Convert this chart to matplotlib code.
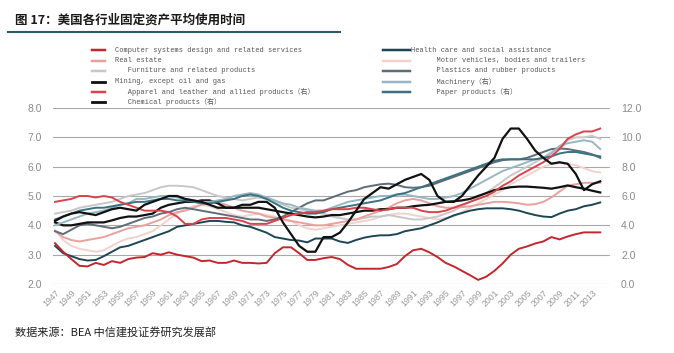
import matplotlib
matplotlib.use("Agg")
import matplotlib.pyplot as plt
from matplotlib.lines import Line2D

plt.rcParams['font.family'] = ['Liberation Sans', 'Noto Sans CJK SC']

# ---- data (years 1947-2014) ----
YEARS = list(range(1947, 2015))
TICK_YEARS = list(range(1947, 2014, 2))

# left axis series
computer = [3.39, 3.10, 2.85, 2.62, 2.60, 2.72, 2.65, 2.78, 2.72, 2.85,
            2.90, 2.92, 3.05, 3.00, 3.08, 3.00, 2.95, 2.90, 2.78, 2.80,
            2.72, 2.72, 2.80, 2.72, 2.72, 2.70, 2.72, 3.05, 3.25, 3.25,
            3.05, 2.82, 2.82, 2.88, 2.92, 2.85, 2.65, 2.52, 2.52, 2.52,
            2.52, 2.58, 2.68, 2.95, 3.15, 3.20, 3.08, 2.92, 2.72, 2.60,
            2.45, 2.30, 2.14, 2.25, 2.45, 2.70, 3.00, 3.20, 3.28, 3.38,
            3.45, 3.60, 3.52, 3.62, 3.70, 3.76, 3.76, 3.76]
real_estate = [3.80, 3.60, 3.50, 3.45, 3.50, 3.55, 3.60, 3.70, 3.80, 3.90,
               3.95, 4.00, 4.10, 4.20, 4.35, 4.45, 4.50, 4.60, 4.70, 4.75,
               4.78, 4.70, 4.60, 4.50, 4.45, 4.40, 4.30, 4.25, 4.20, 4.15,
               4.10, 4.05, 4.00, 4.00, 4.05, 4.10, 4.15, 4.20, 4.30, 4.40,
               4.50, 4.60, 4.75, 4.85, 4.90, 4.85, 4.75, 4.65, 4.60, 4.60,
               4.62, 4.65, 4.70, 4.75, 4.80, 4.80, 4.78, 4.75, 4.70, 4.72,
               4.80, 4.95, 5.15, 5.35, 5.40, 5.45, 5.45, 5.45]
furniture = [4.40, 4.45, 4.50, 4.60, 4.65, 4.70, 4.75, 4.80, 4.90, 5.00,
             5.05, 5.10, 5.20, 5.30, 5.35, 5.35, 5.33, 5.30, 5.20, 5.10,
             5.00, 4.95, 4.90, 4.85, 4.90, 4.95, 4.90, 4.80, 4.70, 4.60,
             4.55, 4.50, 4.45, 4.40, 4.30, 4.25, 4.20, 4.20, 4.25, 4.30,
             4.30, 4.35, 4.30, 4.25, 4.20, 4.20, 4.25, 4.30, 4.40, 4.50,
             4.65, 4.80, 4.95, 5.10, 5.30, 5.50, 5.70, 5.85, 6.00, 6.15,
             6.30, 6.50, 6.70, 6.90, 7.00, 7.00, 7.05, 6.95]
mining = [4.10, 4.00, 4.00, 4.05, 4.10, 4.10, 4.10, 4.17, 4.25, 4.30,
          4.30, 4.35, 4.40, 4.60, 4.70, 4.75, 4.80, 4.80, 4.85, 4.85,
          4.75, 4.60, 4.60, 4.60, 4.60, 4.60, 4.55, 4.50, 4.45, 4.40,
          4.35, 4.30, 4.27, 4.30, 4.35, 4.35, 4.40, 4.45, 4.50, 4.50,
          4.55, 4.55, 4.60, 4.60, 4.65, 4.68, 4.70, 4.75, 4.80, 4.82,
          4.85, 4.90, 5.00, 5.10, 5.20, 5.25, 5.30, 5.32, 5.32, 5.30,
          5.28, 5.25, 5.30, 5.36, 5.30, 5.25, 5.18, 5.12]
health = [3.30, 3.05, 2.95, 2.85, 2.80, 2.82, 2.95, 3.10, 3.25, 3.30,
          3.40, 3.50, 3.60, 3.70, 3.80, 3.95, 4.00, 4.05, 4.10, 4.15,
          4.15, 4.12, 4.10, 4.00, 3.95, 3.85, 3.75, 3.60, 3.55, 3.50,
          3.48, 3.42, 3.55, 3.55, 3.55, 3.45, 3.40, 3.50, 3.58, 3.63,
          3.66, 3.66, 3.70, 3.80, 3.85, 3.90, 4.00, 4.10, 4.22, 4.34,
          4.42, 4.50, 4.55, 4.58, 4.58, 4.58, 4.55, 4.50, 4.42, 4.35,
          4.30, 4.28, 4.40, 4.50, 4.55, 4.65, 4.70, 4.78]
motor = [3.85, 3.50, 3.30, 3.20, 3.15, 3.10, 3.15, 3.30, 3.45, 3.55,
         3.60, 3.70, 3.80, 4.00, 4.20, 4.40, 4.55, 4.65, 4.70, 4.65,
         4.55, 4.45, 4.35, 4.30, 4.35, 4.40, 4.35, 4.30, 4.20, 4.15,
         4.00, 3.90, 3.85, 3.90, 3.95, 4.00, 4.05, 4.10, 4.15, 4.20,
         4.30, 4.35, 4.40, 4.40, 4.35, 4.30, 4.25, 4.20, 4.25, 4.30,
         4.45, 4.60, 4.75, 4.90, 5.05, 5.20, 5.40, 5.55, 5.70, 5.85,
         6.00, 6.10, 6.12, 6.10, 6.05, 5.95, 5.85, 5.80]
plastics = [3.80, 3.70, 3.85, 4.00, 4.05, 4.00, 3.95, 3.90, 3.95, 4.05,
            4.15, 4.25, 4.30, 4.40, 4.45, 4.55, 4.60, 4.55, 4.50, 4.45,
            4.40, 4.35, 4.30, 4.25, 4.20, 4.20, 4.15, 4.20, 4.30, 4.45,
            4.60, 4.75, 4.85, 4.85, 4.95, 5.05, 5.15, 5.20, 5.30, 5.35,
            5.40, 5.42, 5.38, 5.30, 5.28, 5.30, 5.35, 5.45, 5.55, 5.65,
            5.75, 5.85, 5.95, 6.05, 6.15, 6.22, 6.25, 6.25, 6.30, 6.40,
            6.50, 6.60, 6.62, 6.60, 6.55, 6.50, 6.42, 6.30]

# right axis series (右)
apparel = [5.6, 5.7, 5.8, 6.0, 6.0, 5.9, 6.0, 5.9, 5.6, 5.4,
           5.2, 5.0, 5.0, 5.0, 4.9, 4.6, 4.1, 4.1, 4.4, 4.5,
           4.5, 4.5, 4.4, 4.3, 4.1, 4.1, 4.1, 4.3, 4.5, 4.7,
           4.8, 4.9, 4.9, 5.0, 5.1, 5.1, 5.1, 5.2, 5.2, 5.1,
           5.0, 5.1, 5.2, 5.2, 5.2, 5.0, 4.9, 4.9, 5.0, 5.2,
           5.4, 5.6, 5.8, 6.0, 6.3, 6.7, 7.0, 7.4, 7.7, 8.0,
           8.3, 8.7, 9.2, 9.9, 10.2, 10.4, 10.4, 10.6]
chemical = [4.3, 4.6, 4.8, 4.9, 4.8, 4.7, 4.9, 5.1, 5.2, 5.1,
            5.0, 5.4, 5.6, 5.8, 6.0, 6.0, 5.8, 5.7, 5.6, 5.4,
            5.2, 5.2, 5.2, 5.4, 5.4, 5.6, 5.6, 5.2, 4.2, 3.4,
            2.6, 2.2, 2.2, 3.2, 3.2, 3.5, 4.2, 5.0, 5.8, 6.2,
            6.6, 6.5, 6.8, 7.1, 7.3, 7.5, 7.1, 6.0, 5.6, 5.6,
            6.0, 6.7, 7.4, 8.0, 8.6, 9.9, 10.6, 10.6, 9.9, 9.1,
            8.6, 8.2, 8.3, 8.2, 7.5, 6.4, 6.8, 7.0]
machinery = [4.0, 4.2, 4.4, 4.6, 4.8, 4.9, 5.0, 5.2, 5.4, 5.5,
             5.8, 5.8, 5.9, 6.0, 6.0, 5.9, 5.8, 5.7, 5.6, 5.6,
             5.7, 5.8, 6.0, 6.1, 6.2, 6.1, 5.9, 5.7, 5.5, 5.4,
             5.2, 5.1, 5.0, 5.0, 5.2, 5.4, 5.6, 5.7, 5.8, 5.9,
             6.0, 6.0, 6.1, 6.1, 6.0, 5.9, 5.8, 5.8, 5.9, 6.0,
             6.2, 6.5, 6.8, 7.1, 7.4, 7.7, 7.9, 8.1, 8.3, 8.5,
             8.6, 8.9, 9.4, 9.6, 9.7, 9.8, 9.7, 9.2]
paper = [4.4, 4.6, 4.8, 5.0, 5.1, 5.2, 5.2, 5.3, 5.4, 5.5,
         5.6, 5.6, 5.7, 5.8, 5.8, 5.7, 5.7, 5.6, 5.5, 5.5,
         5.6, 5.7, 5.8, 6.0, 6.1, 6.0, 5.8, 5.5, 5.2, 5.0,
         4.9, 4.8, 4.8, 4.9, 5.1, 5.2, 5.3, 5.4, 5.5, 5.6,
         5.7, 5.9, 6.1, 6.2, 6.4, 6.6, 6.8, 7.0, 7.2, 7.4,
         7.6, 7.8, 8.0, 8.2, 8.4, 8.5, 8.5, 8.5, 8.5, 8.5,
         8.6, 8.7, 8.9, 9.0, 9.0, 8.9, 8.8, 8.7]

LEFT_TICKS = [2.0, 3.0, 4.0, 5.0, 6.0, 7.0, 8.0]
RIGHT_TICKS = [0.0, 2.0, 4.0, 6.0, 8.0, 10.0, 12.0]

# name, values, color, linewidth, axis
SERIES = [
    ('Computer systems design and related services', computer, '#c4262e', 1.4, 'L'),
    ('Real estate', real_estate, '#e8a19d', 1.4, 'L'),
    ('   Furniture and related products', furniture, '#c8c8c8', 1.4, 'L'),
    ('Mining, except oil and gas', mining, '#111111', 1.6, 'L'),
    ('   Apparel and leather and allied products（右）', apparel, '#d9434b', 1.4, 'R'),
    ('   Chemical products（右）', chemical, '#111111', 1.6, 'R'),
    ('Health care and social assistance', health, '#1d4655', 1.4, 'L'),
    ('      Motor vehicles, bodies and trailers', motor, '#f1d2cd', 1.4, 'L'),
    ('      Plastics and rubber products', plastics, '#5f6d76', 1.4, 'L'),
    ('      Machinery（右）', machinery, '#98b6c3', 1.4, 'R'),
    ('      Paper products（右）', paper, '#3b7281', 1.4, 'R'),
]

W, H = 674, 353
fig = plt.figure(figsize=(W / 100, H / 100), dpi=100)
ax = fig.add_axes([53 / W, 1 - 284 / H, (610 - 53) / W, (284 - 108) / H])
ax2 = ax.twinx()

# light lines first, black on top
order = [7, 2, 1, 9, 10, 8, 4, 6, 0, 3, 5]
for i in order:
    name, vals, color, lw, side = SERIES[i]
    target = ax if side == 'L' else ax2
    target.plot(YEARS, vals, color=color, lw=lw, zorder=3 if color != '#111111' else 4)

ax.set_ylim(2, 8)
ax2.set_ylim(0, 12)
ax.set_xlim(1946.75, 2015.2)
ax.set_yticks(LEFT_TICKS)
ax.set_yticklabels([f'{v:.1f}' for v in LEFT_TICKS])
ax2.set_yticks(RIGHT_TICKS)
ax2.set_yticklabels([f'{v:.1f}' for v in RIGHT_TICKS])
ax.set_xticks(TICK_YEARS)
ax.set_xticklabels([str(y) for y in TICK_YEARS], rotation=45, ha='right',
                   rotation_mode='anchor')

ax.yaxis.grid(True, color='#a8a8a8', lw=0.8)
ax.set_axisbelow(True)
for a in (ax, ax2):
    for s in a.spines.values():
        s.set_visible(False)
    a.tick_params(length=0, colors='#8a8a8a')
ax.tick_params(axis='y', labelsize=7.5, pad=8)
ax2.tick_params(axis='y', labelsize=7.5, pad=8)
ax.tick_params(axis='x', labelsize=6.3, pad=3, colors='#999999')

# legend drawn by hand, two columns
leg_font = ['Liberation Mono', 'Noto Sans CJK SC']
left_rows = [50, 60.5, 71, 81.5, 91.5, 101.5]
right_rows = [50, 60.5, 71, 81.5, 91.5]
for k, i in enumerate(range(6)):
    name, vals, color, lw, side = SERIES[i]
    y = 1 - left_rows[k] / H
    fig.add_artist(Line2D([92 / W, 105 / W], [y, y], color=color, lw=lw + 0.4))
    fig.text(115 / W, y, name, fontsize=5, family=leg_font, color='#555555', va='center')
for k, i in enumerate(range(6, 11)):
    name, vals, color, lw, side = SERIES[i]
    y = 1 - right_rows[k] / H
    fig.add_artist(Line2D([383 / W, 410 / W], [y, y], color=color, lw=lw + 0.4))
    fig.text(411 / W, y, name, fontsize=5, family=leg_font, color='#555555', va='center')

# title and source
fig.text(15 / W, 1 - 20 / H, '图 17：美国各行业固定资产平均使用时间', fontsize=9,
         family=['Noto Sans CJK SC'], fontweight='bold', color='#1a1a1a', va='center')
fig.add_artist(Line2D([8 / W, 340 / W], [1 - 32 / H, 1 - 32 / H], color='#2c5a63', lw=1.5))
fig.text(15 / W, 1 - 333 / H, '数据来源：BEA 中信建投证券研究发展部', fontsize=8,
         family=['Noto Sans CJK SC'], color='#222222', va='center')

fig.savefig('out.png', dpi=100)
